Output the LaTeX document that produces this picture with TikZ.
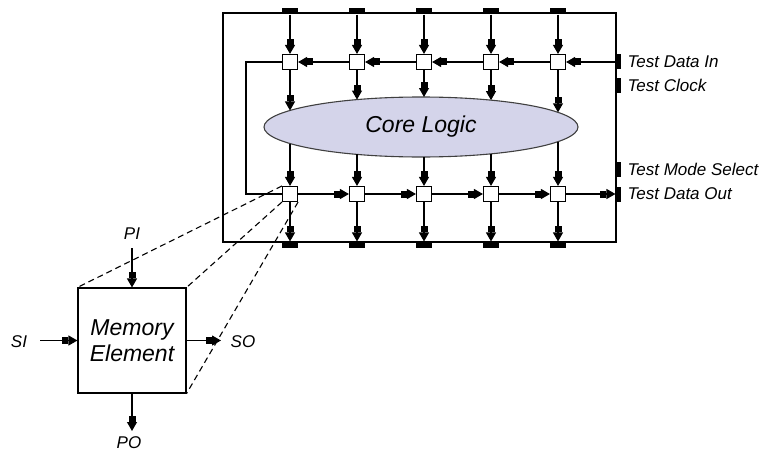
\documentclass[tikz,border=0pt]{standalone}
\usepackage{fontspec}
\setmainfont{Liberation Sans}
\usetikzlibrary{arrows.meta,shapes.geometric}
\definecolor{corefill}{RGB}{212,212,234}
\newcommand{\lblfont}{\fontsize{17}{20}\selectfont\itshape}
\newcommand{\bigfont}{\fontsize{23}{26}\selectfont\itshape}

\begin{document}
\begin{tikzpicture}
  [x=1pt,y=-1pt,line width=1.1pt,
   cell/.style={draw,fill=white,minimum size=15pt,inner sep=0pt},
   hpad/.style={fill=black,minimum width=16pt,minimum height=6pt,inner sep=0pt},
   vpad/.style={fill=black,minimum width=5pt,minimum height=15pt,inner sep=0pt},
   lbl/.style={font=\lblfont,inner sep=0pt},
   arr/.style={-{Rectangle[length=6pt,width=7pt]Triangle[length=9pt,width=10pt]}},
   zoomline/.style={dash pattern=on 6pt off 4pt}]
\useasboundingbox (0,0) rectangle (766,452);
% Chip mit Kernlogik
  \node[draw,minimum width=393pt,minimum height=229pt,inner sep=0pt] (chip) at (419.5,127.5) {};
  \node[ellipse,draw=black!75,fill=corefill,minimum width=314pt,minimum height=60pt,
        inner sep=0pt,font=\bigfont] (core) at (421,127) {Core Logic};

  % Boundary-Scan-Zellen, Pads und Pfeile je Spalte
  \foreach \i/\x in {1/290,2/357,3/424,4/491,5/558}{
    \node[cell] (t\i) at (\x,62) {};
    \node[cell] (b\i) at (\x,194) {};
    \node[hpad] (pt\i) at (\x,11) {};
    \node[hpad] (pb\i) at (\x,245) {};
    \pgfmathsetmacro{\h}{30*sqrt(1-((\x-421)/157)^2)}
    \coordinate (ct\i) at (\x,127-\h);
    \coordinate (cb\i) at (\x,127+\h);
    \draw[arr] (pt\i) -- (t\i);
    \draw[arr] (t\i) -- (ct\i);
    \draw[arr] (cb\i) -- (b\i);
    \draw[arr] (b\i) -- (pb\i);
  }
  \foreach \from/\to in {t2/t1,t3/t2,t4/t3,t5/t4,b1/b2,b2/b3,b3/b4,b4/b5}
    \draw[arr] (\from) -- (\to);

  % Rueckfuehrung oben -> unten
  \coordinate (lp) at (246,62);
  \draw (t1) -- (lp) |- (b1);

  % Test-Pins rechts
  \node[vpad] (tdi) at (618.5,62) {};
  \node[vpad] (tck) at (618.5,85.5) {};
  \node[vpad] (tms) at (618.5,169.5) {};
  \node[vpad] (tdo) at (618.5,194) {};
  \node[lbl,anchor=west] (ltdi) at (627,62) {Test Data In};
  \node[lbl,anchor=west] (ltck) at (627,85.5) {Test Clock};
  \node[lbl,anchor=west] (ltms) at (627,169.5) {Test Mode Select};
  \node[lbl,anchor=west] (ltdo) at (627,194) {Test Data Out};
  \draw[arr] (tdi) -- (t5);
  \draw[arr] (b5) -- (tdo);

  % Speicherelement (Vergroesserung)
  \node[draw,minimum width=108pt,minimum height=105pt,inner sep=0pt,align=center,
        font=\bigfont] (mem) at (132,340.5) {Memory\\Element};
  \node[lbl] (pi) at (132,234) {PI};
  \node[lbl] (si) at (19,342) {SI};
  \node[lbl] (so) at (243,342) {SO};
  \node[lbl] (po) at (129,443) {PO};
  \coordinate (piin) at (132,248);
  \coordinate (siin) at (40,340.5);
  \coordinate (soout) at (221,340.5);
  \coordinate (poout) at (132,431);
  \draw[arr] (piin) -- (mem);
  \draw[arr] (siin) -- (mem);
  \draw[arr] (mem) -- (soout);
  \draw[arr] (mem) -- (poout);

  \draw[zoomline] (b1.north west) -- (mem.north west);
  \draw[zoomline] (b1.south west) -- (mem.north east);
  \draw[zoomline] (b1.south east) -- (mem.south east);
\end{tikzpicture}
\end{document}
